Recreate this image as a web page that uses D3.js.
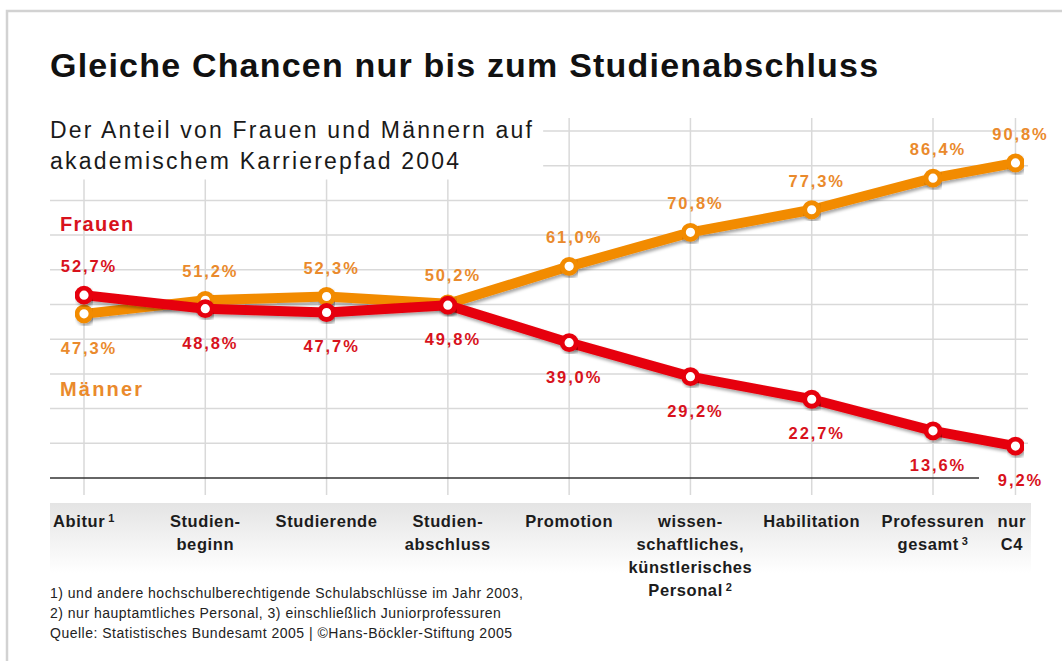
<!DOCTYPE html>
<html><head><meta charset="utf-8">
<script src="https://cdn.jsdelivr.net/npm/d3@7"></script>
<style>
body{margin:0;background:#fff}
svg{display:block}
text{font-family:"Liberation Sans",Arial,Helvetica,sans-serif}
</style>
</head><body>
<svg id="chart" width="1062" height="661"></svg>
<script>
// ---------- data ----------
const categories = ["Abitur","Studienbeginn","Studierende","Studienabschluss","Promotion",
  "wissenschaftliches, künstlerisches Personal","Habilitation","Professuren gesamt","nur C4"];
const categoryLines = [["Abitur"],["Studien-","beginn"],["Studierende"],["Studien-","abschluss"],["Promotion"],
  ["wissen-","schaftliches,","künstlerisches","Personal"],["Habilitation"],["Professuren","gesamt"],["nur","C4"]];
const footnoteMarks = ["1","","","","","2","","3",""];
const frauen  = [52.7, 48.8, 47.7, 49.8, 39.0, 29.2, 22.7, 13.6, 9.2];
const maenner = [47.3, 51.2, 52.3, 50.2, 61.0, 70.8, 77.3, 86.4, 90.8];
const yTicks = [0,10,20,30,40,50,60,70,80,90,100];
const title = "Gleiche Chancen nur bis zum Studienabschluss";
const subtitleLines = ["Der Anteil von Frauen und Männern auf","akademischem Karrierepfad 2004"];
const seriesNames = ["Frauen","Männer"];
const footnotes = ["1) und andere hochschulberechtigende Schulabschlüsse im Jahr 2003,",
  "2) nur hauptamtliches Personal, 3) einschließlich Juniorprofessuren",
  "Quelle: Statistisches Bundesamt 2005 | ©Hans-Böckler-Stiftung 2005"];

// ---------- layout ----------
const svg = d3.select("#chart");
const RED = "#e6000c", ORANGE = "#f28b00";
const RED_T = "#d8121c", ORANGE_T = "#ea8a2c";
const plotL = 50, plotR = 1028;
const y = d3.scaleLinear().domain([0,100]).range([478,131]);
const xi = d3.scaleLinear().domain([0,7]).range([84,933]);
const lastGap = 0.68;
const x = i => i < 8 ? xi(i) : xi(7 + lastGap);
const fmt = v => d3.format(".1f")(v).replace(".", ",") + "%";

const defs = svg.append("defs");
const grad = defs.append("linearGradient").attr("id","band").attr("x1",0).attr("y1",0).attr("x2",0).attr("y2",1);
grad.append("stop").attr("offset","0%").attr("stop-color","#e4e4e4");
grad.append("stop").attr("offset","100%").attr("stop-color","#ffffff");
const f = defs.append("filter").attr("id","shadow").attr("x","-10%").attr("y","-20%").attr("width","120%").attr("height","150%");
f.append("feDropShadow").attr("dx",1.5).attr("dy",2.5).attr("stdDeviation",1.6).attr("flood-color","#000").attr("flood-opacity",0.35);

// frame
svg.append("rect").attr("x",7).attr("y",11).attr("width",1100).attr("height",700)
  .attr("fill","#fff").attr("stroke","#d2d2d2").attr("stroke-width",2.5);

// horizontal grid
svg.append("g").selectAll("line").data(yTicks.filter(d => d > 0)).join("line")
  .attr("x1",plotL).attr("x2",plotR).attr("y1",d => y(d)).attr("y2",d => y(d))
  .attr("stroke","#d9d9d9").attr("stroke-width",1.5);
// vertical grid
svg.append("g").selectAll("line").data(categories).join("line")
  .attr("x1",(d,i) => x(i)).attr("x2",(d,i) => x(i))
  .attr("y1",y(100) - 13).attr("y2",495)
  .attr("stroke","#d9d9d9").attr("stroke-width",1.5);
// baseline
svg.append("line").attr("x1",plotL).attr("x2",979).attr("y1",y(0)).attr("y2",y(0))
  .attr("stroke","#333").attr("stroke-width",1.6);

// subtitle with white backing
const sub = svg.append("g");
const subBg = sub.append("rect").attr("fill","#fff");
const subText = sub.append("text").attr("font-size",23).attr("fill","#1a1a1a").attr("letter-spacing",2.2);
subtitleLines.forEach((l,k) => subText.append("tspan").attr("x",50).attr("y",138 + k*30.5).text(l));
const sb = subText.node().getBBox();
subBg.attr("x",sb.x - 5).attr("y",sb.y - 8).attr("width",sb.width + 14).attr("height",sb.height + 14);

// title
svg.append("text").attr("x",50).attr("y",77).attr("font-size",34).attr("font-weight","bold")
  .attr("fill","#111").attr("letter-spacing",1.2).text(title);

// category band
const bandL = 50, bandR = 1031;
svg.append("rect").attr("x",bandL).attr("y",503).attr("width",bandR - bandL).attr("height",70).attr("fill","url(#band)");
categoryLines.forEach((lines,i) => {
  const t = svg.append("text").attr("font-size",16.5).attr("font-weight","bold").attr("fill","#1c1c1c")
    .attr("letter-spacing",0.6).attr("text-anchor","middle");
  lines.forEach((l,k) => {
    t.append("tspan").attr("x",x(i)).attr("y",527 + k*23).text(l);
    if (k === lines.length - 1 && footnoteMarks[i]) {
      t.append("tspan").attr("font-size",11).attr("dy",-5).attr("dx",3).text(footnoteMarks[i]);
    }
  });
  const bb = t.node().getBBox();
  const over = bb.x + bb.width - (bandR - 5);
  if (over > 0) t.attr("transform",`translate(${-over},0)`);
});

// legend labels
svg.append("text").attr("x",60).attr("y",231).attr("font-size",20).attr("font-weight","bold")
  .attr("fill",RED_T).attr("letter-spacing",1.3).text(seriesNames[0]);
svg.append("text").attr("x",60).attr("y",396).attr("font-size",20).attr("font-weight","bold")
  .attr("fill",ORANGE_T).attr("letter-spacing",2.2).text(seriesNames[1]);

// footnotes
svg.append("g").selectAll("text").data(footnotes).join("text")
  .attr("x",50).attr("y",(d,k) => 598 + k*20).attr("font-size",14).attr("fill","#222")
  .attr("letter-spacing",0.5).text(d => d);

// series
const line = d3.line().x((d,i) => x(i)).y(d => y(d));
function drawSeries(vals, other, col, tcol) {
  const g = svg.append("g");
  g.append("path").datum(vals).attr("d",line).attr("fill","none").attr("stroke",col)
    .attr("stroke-width",10).attr("stroke-linejoin","round").attr("stroke-linecap","round")
    .attr("filter","url(#shadow)");
  g.selectAll("circle").data(vals).join("circle")
    .attr("cx",(d,i) => x(i)).attr("cy",d => y(d)).attr("r",7)
    .attr("fill","#fff").attr("stroke",col).attr("stroke-width",4.8).attr("filter","url(#shadow)");
  g.selectAll("text").data(vals).join("text")
    .attr("x",(d,i) => x(i) + 5)
    .attr("y",(d,i) => d >= other[i] ? y(d) - 23 : y(d) + 40)
    .attr("text-anchor","middle").attr("font-size",16.5).attr("font-weight","bold")
    .attr("letter-spacing",1.9).attr("fill",tcol).text(d => fmt(d));
}
drawSeries(maenner, frauen, ORANGE, ORANGE_T);
drawSeries(frauen, maenner, RED, RED_T);
</script>
</body></html>
